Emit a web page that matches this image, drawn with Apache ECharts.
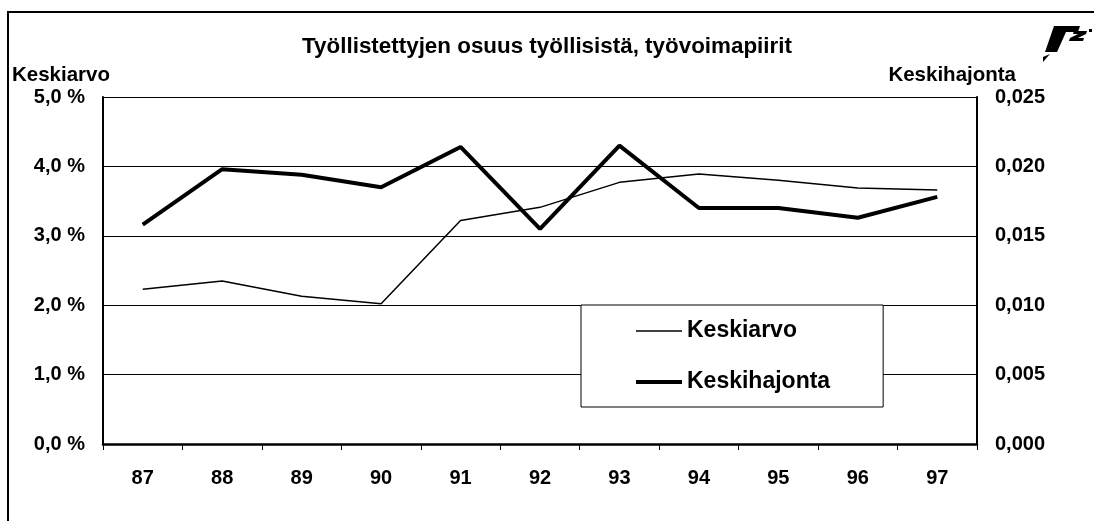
<html>
<head>
<meta http-equiv="Content-Type" content="text/html; charset=utf-8" />
<style type="text/css">
body {margin: 0; background-color: white}
</style>
</head>
<body>
<div id="main" style="width:1094px;height:521px;"></div>
</body>

<script src="https://cdn.jsdelivr.net/npm/echarts@6/dist/echarts.min.js"></script>
<script type="text/javascript">

var years = ['87', '88', '89', '90', '91', '92', '93', '94', '95', '96', '97'];
// keskiarvo, % (left axis)
var keskiarvo = [2.23, 2.35, 2.13, 2.02, 3.22, 3.41, 3.77, 3.89, 3.80, 3.69, 3.66];
// keskihajonta (right axis)
var keskihajonta = [0.0158, 0.0198, 0.0194, 0.0185, 0.0214, 0.0155, 0.0215, 0.0170, 0.0170, 0.0163, 0.0178];

var font = 'Liberation Sans, Arial, sans-serif';
var myChart = echarts.init(document.getElementById('main'));

option = {
    backgroundColor: '#fff',
    animation: false,
    textStyle: { fontFamily: font, color: '#000' },
    title: [{
        text: 'Työllistettyjen osuus työllisistä, työvoimapiirit',
        left: 'center',
        top: 31,
        textStyle: { fontFamily: font, fontSize: 22.4, fontWeight: 'bold', color: '#000' }
    }, {
        text: 'Keskiarvo',
        left: 7,
        top: 60,
        textStyle: { fontFamily: font, fontSize: 20.5, fontWeight: 'bold', color: '#000' }
    }, {
        text: 'Keskihajonta',
        right: 73,
        top: 60,
        textStyle: { fontFamily: font, fontSize: 20.5, fontWeight: 'bold', color: '#000' }
    }],
    legend: {
        left: 581,
        top: 305,
        orient: 'vertical',
        backgroundColor: '#fff',
        borderColor: '#000',
        borderWidth: 1,
        borderRadius: 0,
        padding: [13, 53, 12, 53],
        itemGap: 25,
        itemWidth: 46,
        itemHeight: 14,
        itemStyle: { opacity: 0 },
        textStyle: { fontFamily: font, fontSize: 23, fontWeight: 'bold', color: '#000', lineHeight: 26 },
        data: [
            { name: 'Keskiarvo', lineStyle: { width: 1.5, color: '#000' } },
            { name: 'Keskihajonta', lineStyle: { width: 4, color: '#000' } }
        ]
    },
    grid: { left: 103, right: 117, top: 97, bottom: 77 },
    xAxis: {
        type: 'category',
        data: years,
        boundaryGap: true,
        axisLine: { lineStyle: { color: '#000', width: 2.5 } },
        axisTick: { show: true, length: 6, lineStyle: { color: '#000', width: 1 } },
        axisLabel: { margin: 24, fontFamily: font, fontSize: 20, fontWeight: 'bold', color: '#000' }
    },
    yAxis: [{
        type: 'value',
        min: 0,
        max: 5,
        interval: 1,
        axisLine: { show: true, lineStyle: { color: '#000', width: 2 } },
        axisTick: { show: false },
        splitLine: { lineStyle: { color: '#000', width: 1 } },
        axisLabel: {
            margin: 18,
            fontFamily: font, fontSize: 20, fontWeight: 'bold', color: '#000',
            formatter: function (v) { return v.toFixed(1).replace('.', ',') + ' %'; }
        }
    }, {
        type: 'value',
        min: 0,
        max: 0.025,
        interval: 0.005,
        axisLine: { show: true, lineStyle: { color: '#000', width: 2 } },
        axisTick: { show: false },
        splitLine: { show: false },
        axisLabel: {
            margin: 18,
            fontFamily: font, fontSize: 20, fontWeight: 'bold', color: '#000',
            formatter: function (v) { return v.toFixed(3).replace('.', ','); }
        }
    }],
    series: [{
        name: 'Keskiarvo',
        type: 'line',
        data: keskiarvo,
        yAxisIndex: 0,
        showSymbol: false,
        symbol: 'none',
        color: '#000',
        lineStyle: { color: '#000', width: 1.5 }
    }, {
        name: 'Keskihajonta',
        type: 'line',
        data: keskihajonta,
        yAxisIndex: 1,
        showSymbol: false,
        symbol: 'none',
        color: '#000',
        lineStyle: { color: '#000', width: 4 }
    }],
    graphic: [{
        type: 'rect',
        shape: { x: 8, y: 12, width: 1100, height: 520 },
        style: { fill: 'none', stroke: '#000', lineWidth: 2 }
    }, {
        type: 'polygon',
        shape: { points: [[1054, 26], [1080, 26], [1078, 32], [1066, 32], [1057, 52], [1045, 52]] },
        style: { fill: '#000' }
    }, {
        type: 'polygon',
        shape: { points: [[1074, 31], [1087, 31], [1086, 34], [1078, 38], [1084, 38], [1083, 41], [1069, 41], [1070, 38], [1078, 34], [1073, 34]] },
        style: { fill: '#000' }
    }, {
        type: 'polygon',
        shape: { points: [[1043, 57], [1050, 54], [1043, 62]] },
        style: { fill: '#000' }
    }, {
        type: 'rect',
        shape: { x: 1089, y: 29, width: 3, height: 3 },
        style: { fill: '#000' }
    }]
};

myChart.setOption(option);
</script>
</html>
